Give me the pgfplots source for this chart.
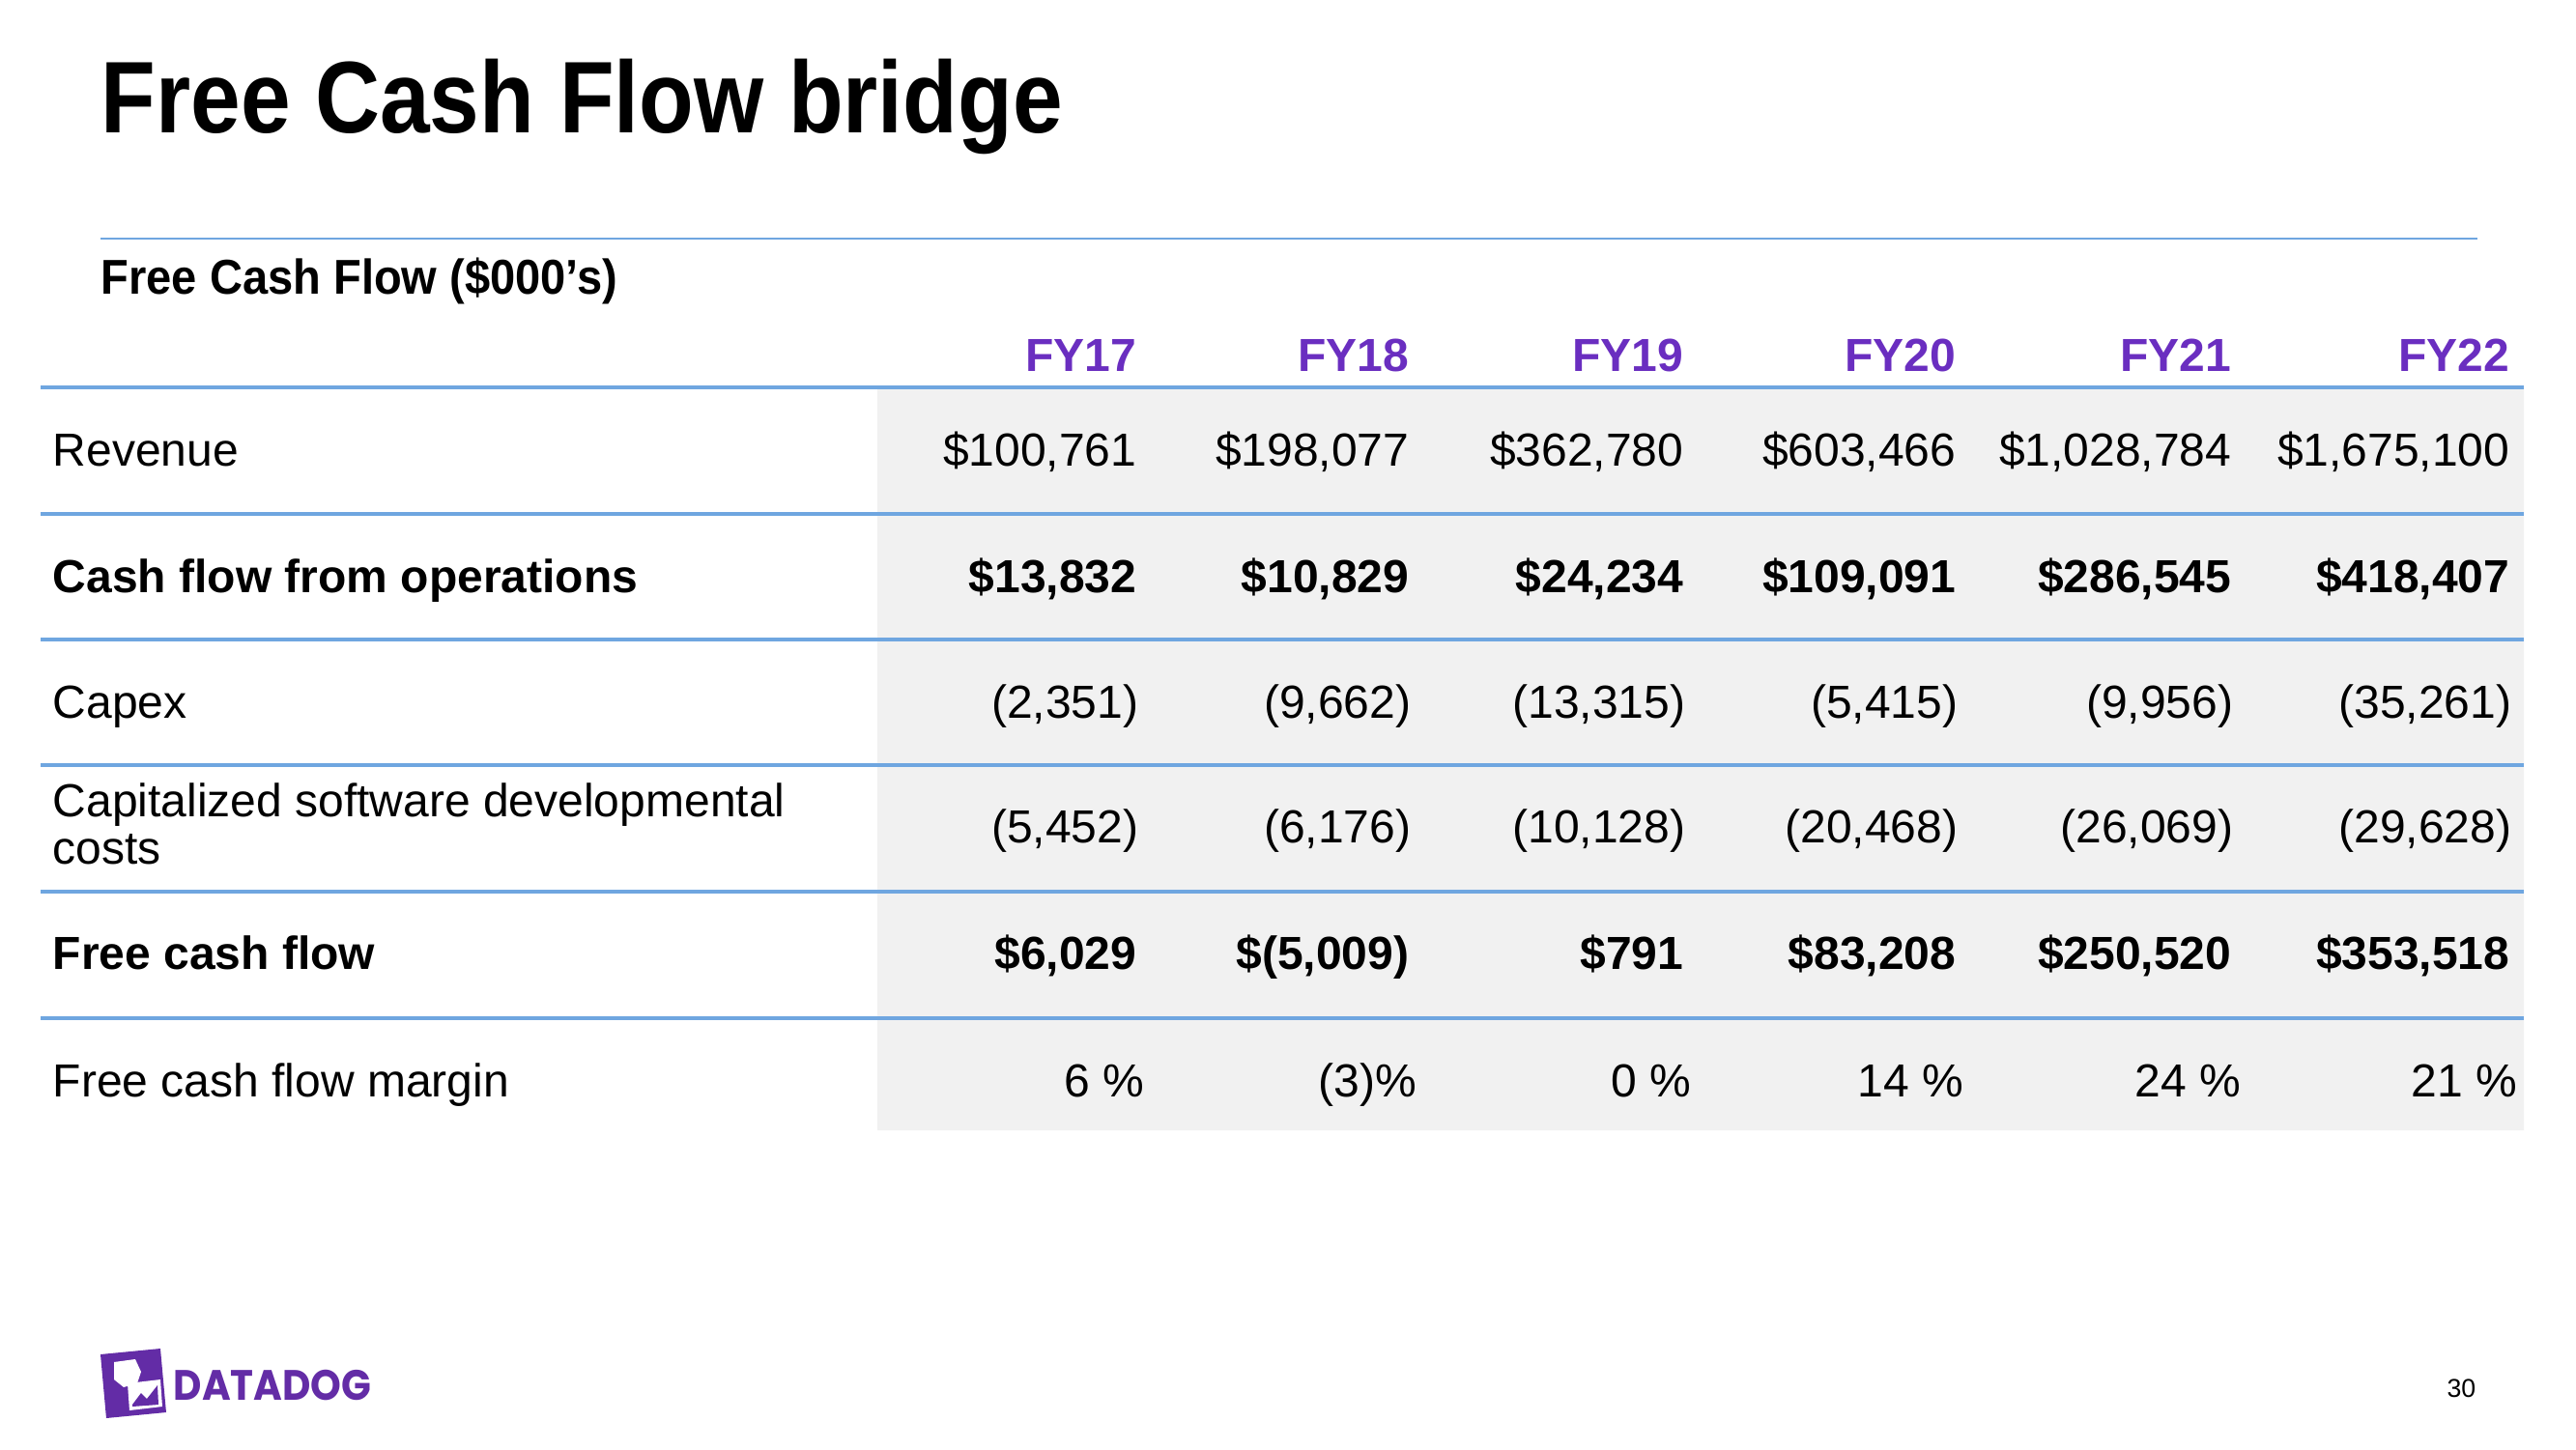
\documentclass[border=0pt]{standalone}
\usepackage{pgfplots}
\pgfplotsset{compat=1.18}
\usepackage{graphicx}
\usepackage{fontspec}
\setmainfont{Liberation Sans}
\newfontfamily\logofont{Poppins}
\definecolor{lineblue}{HTML}{6FA6E0}
\definecolor{fypurple}{HTML}{6A2EC0}
\definecolor{ddpurple}{HTML}{632CA6}
\definecolor{cellgray}{HTML}{F1F1F1}
\newcommand\fs[1]{\fontsize{#1}{#1}\selectfont}
\begin{document}
\begin{tikzpicture}
\begin{axis}[hide axis, scale only axis, width=26.66cm, height=15cm,
  xmin=0, xmax=2666, ymin=0, ymax=1500, y dir=reverse, clip=false]
% page background
\addplot[fill=white, draw=none] coordinates {(0,0)(2666,0)(2666,1500)(0,1500)(0,0)};
% gray value area
\addplot[fill=cellgray, draw=none] coordinates {(908,401)(2612,401)(2612,1170)(908,1170)(908,401)};
% title rule
\addplot[color=lineblue, line width=0.8pt, mark=none] coordinates {(104,247)(2564,247)};
% table rules
\addplot[color=lineblue, line width=0.9pt, mark=none] coordinates {(42,401)(2612,401)};
\addplot[color=lineblue, line width=0.9pt, mark=none] coordinates {(42,532)(2612,532)};
\addplot[color=lineblue, line width=0.9pt, mark=none] coordinates {(42,662)(2612,662)};
\addplot[color=lineblue, line width=0.9pt, mark=none] coordinates {(42,792)(2612,792)};
\addplot[color=lineblue, line width=0.9pt, mark=none] coordinates {(42,923)(2612,923)};
\addplot[color=lineblue, line width=0.9pt, mark=none] coordinates {(42,1054)(2612,1054)};
% logo icon
\addplot[fill=ddpurple, draw=none] coordinates {(104,1402)(166,1396)(172,1462)(110,1468)(104,1402)};
\addplot[fill=white, draw=none] coordinates {(132,1432)(166,1428)(168,1456)(134,1460)(132,1432)};
\addplot[fill=ddpurple, draw=none] coordinates {(137,1454)(146,1442)(152,1448)(163,1434)(164,1454)(137,1456)};
\addplot[fill=white, draw=none] coordinates {(118,1410)(140,1407)(146,1420)(142,1432)(128,1436)(118,1428)(118,1410)};

% title and subtitle
\node[anchor=base west, inner sep=0pt] at (axis cs:104,137) {\scalebox{0.88}[1]{\fs{30}\bfseries Free Cash Flow bridge}};
\node[anchor=base west, inner sep=0pt] at (axis cs:104,304) {\scalebox{0.93}[1]{\fs{14.4}\bfseries Free Cash Flow (\$000’s)}};

% header
\begin{scope}[every node/.style={anchor=base east, inner sep=0pt, font=\fs{13.66}\bfseries, text=fypurple}]
\node at (axis cs:1177,384) {FY17};
\node at (axis cs:1459,384) {FY18};
\node at (axis cs:1743,384) {FY19};
\node at (axis cs:2025,384) {FY20};
\node at (axis cs:2310,384) {FY21};
\node at (axis cs:2598,384) {FY22};
\end{scope}

% row labels
\begin{scope}[every node/.style={anchor=base west, inner sep=0pt}]
\node at (axis cs:54,482) {\fs{13.66}Revenue};
\node at (axis cs:54,613) {\fs{13.66}\bfseries Cash flow from operations};
\node at (axis cs:54,743) {\fs{13.66}Capex};
\node at (axis cs:54,845) {\fs{13.66}Capitalized software developmental};
\node at (axis cs:54,894) {\fs{13.66}costs};
\node at (axis cs:54,1003) {\fs{13.66}\bfseries Free cash flow};
\node at (axis cs:54,1135) {\fs{13.66}Free cash flow margin};
\end{scope}

% values
\begin{scope}[every node/.style={anchor=base east, inner sep=0pt, font=\fs{13.66}}]
% Revenue
\node at (axis cs:1177,482) {\$100,761};
\node at (axis cs:1459,482) {\$198,077};
\node at (axis cs:1743,482) {\$362,780};
\node at (axis cs:2025,482) {\$603,466};
\node at (axis cs:2310,482) {\$1,028,784};
\node at (axis cs:2598,482) {\$1,675,100};
% Cash flow from operations
\node at (axis cs:1177,613) {\bfseries \$13,832};
\node at (axis cs:1459,613) {\bfseries \$10,829};
\node at (axis cs:1743,613) {\bfseries \$24,234};
\node at (axis cs:2025,613) {\bfseries \$109,091};
\node at (axis cs:2310,613) {\bfseries \$286,545};
\node at (axis cs:2598,613) {\bfseries \$418,407};
% Capex
\node at (axis cs:1179,743) {(2,351)};
\node at (axis cs:1461,743) {(9,662)};
\node at (axis cs:1745,743) {(13,315)};
\node at (axis cs:2027,743) {(5,415)};
\node at (axis cs:2312,743) {(9,956)};
\node at (axis cs:2600,743) {(35,261)};
% Capitalized software
\node at (axis cs:1179,872) {(5,452)};
\node at (axis cs:1461,872) {(6,176)};
\node at (axis cs:1745,872) {(10,128)};
\node at (axis cs:2027,872) {(20,468)};
\node at (axis cs:2312,872) {(26,069)};
\node at (axis cs:2600,872) {(29,628)};
% Free cash flow
\node at (axis cs:1177,1003) {\bfseries \$6,029};
\node at (axis cs:1459,1003) {\bfseries \$(5,009)};
\node at (axis cs:1743,1003) {\bfseries \$791};
\node at (axis cs:2025,1003) {\bfseries \$83,208};
\node at (axis cs:2310,1003) {\bfseries \$250,520};
\node at (axis cs:2598,1003) {\bfseries \$353,518};
% Margin
\node at (axis cs:1185,1135) {6 \%};
\node at (axis cs:1467,1135) {(3)\%};
\node at (axis cs:1751,1135) {0 \%};
\node at (axis cs:2033,1135) {14 \%};
\node at (axis cs:2320,1135) {24 \%};
\node at (axis cs:2606,1135) {21 \%};
\end{scope}

% logo text and page number
\node[anchor=base west, inner sep=0pt, text=ddpurple] at (axis cs:179,1449) {\scalebox{0.92}[1]{\logofont\fs{12.5}\bfseries DATADOG}};
\node[anchor=base east, inner sep=0pt] at (axis cs:2563,1446) {\fs{7.6}30};
\end{axis}
\end{tikzpicture}
\end{document}
